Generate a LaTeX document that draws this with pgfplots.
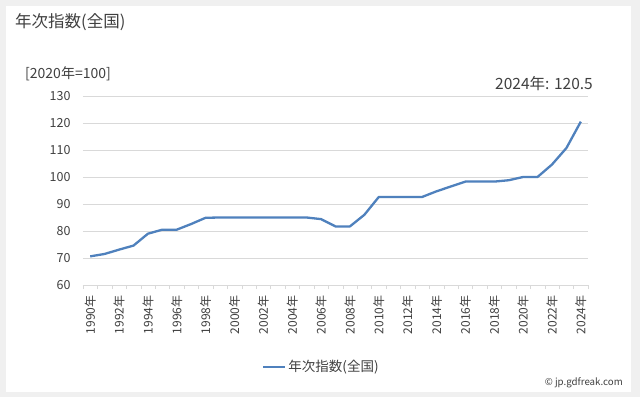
\documentclass[border=0pt]{standalone}
\usepackage{pgfplots}
\pgfplotsset{compat=1.18}
\usepackage{fontspec}
\setmainfont{Noto Sans CJK JP}
\definecolor{linecol}{HTML}{4F81BD}
\definecolor{gridcol}{HTML}{D9D9D9}
\definecolor{bgcol}{HTML}{F0F0F0}
\definecolor{txtcol}{HTML}{404040}
\begin{document}
\begin{tikzpicture}[x=1pt,y=1pt]
\fill[bgcol] (0,0) rectangle (640,397);
\fill[white] (6,5) rectangle (631,391);
\node[anchor=west,font=\fontsize{16.5}{18}\selectfont,text=txtcol,inner sep=0] at (15,375) {年次指数(全国)};
\node[anchor=west,font=\fontsize{14}{16}\selectfont,text=txtcol,inner sep=0] at (25,323) {[2020年=100]};
\node[anchor=center,font=\fontsize{15.5}{17}\selectfont,text=txtcol,inner sep=0] at (544,313) {2024年: 120.5};
\node[anchor=east,font=\fontsize{9.7}{12}\selectfont,text=txtcol,inner sep=0] at (623,14) {© jp.gdfreak.com};
\begin{axis}[
  at={(83pt,112pt)}, anchor=south west,
  width=505pt, height=189pt, scale only axis,
  xmin=1989.5, xmax=2024.5, ymin=60, ymax=130,
  xtick={1990,1992,...,2024},
  minor xtick={1989.5,1990.5,...,2024.5},
  ytick={60,70,...,130},
  major tick length=0pt, minor tick length=4pt,
  tick align=outside,
  minor tick style={gridcol},
  axis lines*=left,
  x axis line style={gridcol, line width=0.8pt},
  y axis line style={draw=none},
  ymajorgrids, grid style={gridcol, line width=0.8pt},
  /pgf/number format/assume math mode=true,
  yticklabel style={font=\fontsize{12.5}{14}\selectfont, text=txtcol, xshift=-9pt},
  xticklabel={\pgfmathprintnumber[1000 sep={}]{\tick}年},
  xticklabel style={font=\fontsize{12}{14}\selectfont, text=txtcol, yshift=-7pt, rotate=90, anchor=east},
  legend style={at={(0.472,-0.434)}, anchor=center, draw=none, fill=none,
    font=\fontsize{13.5}{15}\selectfont, text=txtcol},
  legend image code/.code={\draw[#1] (0pt,0pt) -- (22pt,0pt);},
  legend cell align=left,
]
\addplot[linecol, line width=2.3pt, line join=round] coordinates {
(1990,70.6) (1991,71.5) (1992,73.1) (1993,74.6) (1994,79.0) (1995,80.5)
(1996,80.5) (1997,82.6) (1998,84.9) (1999,85.0) (2000,85.0) (2001,85.0)
(2002,85.0) (2003,85.0) (2004,85.0) (2005,85.0) (2006,84.4) (2007,81.7)
(2008,81.7) (2009,86.0) (2010,92.6) (2011,92.6) (2012,92.6) (2013,92.6)
(2014,94.7) (2015,96.5) (2016,98.3) (2017,98.3) (2018,98.3) (2019,98.8)
(2020,100.0) (2021,100.0) (2022,104.6) (2023,110.7) (2024,120.5)
};
\addlegendentry{年次指数(全国)}
\end{axis}
\end{tikzpicture}
\end{document}
